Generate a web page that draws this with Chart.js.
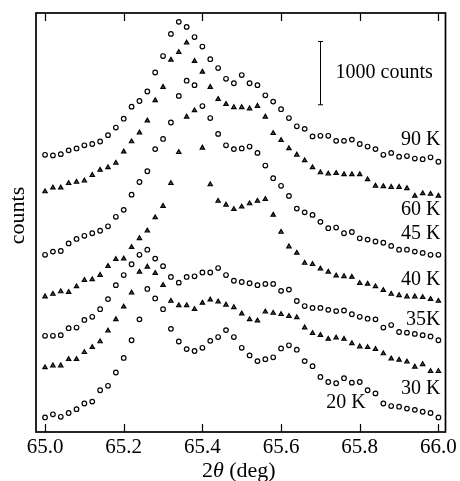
<!DOCTYPE html>
<html>
<head>
<meta charset="utf-8">
<script src="https://cdn.jsdelivr.net/npm/chart.js@4.4.0/dist/chart.umd.min.js"></script>
<style>
  html, body { margin: 0; padding: 0; background: #fff; }
</style>
</head>
<body>
<canvas id="myChart" width="460" height="481"></canvas>
<script>
// scattering angle 2theta (deg), one step = 0.02 deg
const angles = [
  65.00, 65.02, 65.04, 65.06, 65.08, 65.10, 65.12, 65.14, 65.16, 65.18,
  65.20, 65.22, 65.24, 65.26, 65.28, 65.30, 65.32, 65.34, 65.36, 65.38,
  65.40, 65.42, 65.44, 65.46, 65.48, 65.50, 65.52, 65.54, 65.56, 65.58,
  65.60, 65.62, 65.64, 65.66, 65.68, 65.70, 65.72, 65.74, 65.76, 65.78,
  65.80, 65.82, 65.84, 65.86, 65.88, 65.90, 65.92, 65.94, 65.96, 65.98,
  66.00
]

// counts, curves shifted up for clarity
const counts90K = [
  4380, 4370, 4390, 4450, 4480, 4530, 4550, 4590, 4690, 4810,
  4950, 5140, 5230, 5380, 5680, 5940, 6290, 6480, 6400, 6240,
  6090, 5890, 5750, 5580, 5510, 5640, 5510, 5480, 5320, 5220,
  5100, 4960, 4830, 4790, 4670, 4680, 4680, 4600, 4600, 4620,
  4550, 4510, 4470, 4380, 4410, 4350, 4360, 4320, 4310, 4340,
  4270
]
const counts60K = [
  3800, 3860, 3860, 3930, 3950, 3970, 4060, 4140, 4180, 4250,
  4430, 4590, 4730, 4920, 5240, 5450, 5880, 6000, 6150, 5860,
  5690, 5450, 5260, 5180, 5130, 5130, 5110, 5150, 4980, 4720,
  4610, 4480, 4380, 4290, 4180, 4100, 4080, 4090, 4070, 4070,
  4070, 3990, 3890, 3880, 3870, 3870, 3850, 3730, 3770, 3760,
  3730
]
const counts45K = [
  2800, 2850, 2860, 2980, 3050, 3100, 3140, 3180, 3250, 3400,
  3510, 3750, 3950, 4120, 4470, 4630, 4890, 5310, 5550, 5480,
  5150, 4960, 4710, 4530, 4470, 4480, 4510, 4410, 4210, 4010,
  3890, 3730, 3530, 3470, 3430, 3320, 3220, 3230, 3140, 3160,
  3060, 3040, 3010, 2990, 2940, 2880, 2880, 2850, 2830, 2800,
  2800
]
const counts40K = [
  2140, 2180, 2220, 2210, 2300, 2400, 2410, 2480, 2620, 2730,
  2740, 2920, 3060, 3180, 3390, 3570, 3930, 4420, 4980, 5080,
  4490, 3910, 3650, 3590, 3520, 3560, 3610, 3650, 3680, 3430,
  3160, 2930, 2830, 2670, 2650, 2580, 2530, 2470, 2460, 2450,
  2350, 2340, 2300, 2240, 2180, 2160, 2140, 2140, 2130, 2100,
  2070
]
const counts35K = [
  1520, 1520, 1530, 1640, 1650, 1770, 1820, 1940, 2100, 2320,
  2480, 2650, 2800, 2880, 2740, 2620, 2450, 2360, 2450, 2460,
  2520, 2520, 2590, 2480, 2390, 2370, 2350, 2320, 2340, 2340,
  2230, 2250, 2070, 1990, 1960, 1960, 1930, 1910, 1920, 1860,
  1820, 1790, 1780, 1650, 1690, 1580, 1570, 1550, 1530, 1510,
  1450
]
const counts30K = [
  1020, 1050, 1050, 1150, 1150, 1260, 1340, 1430, 1600, 1780,
  1980, 2200, 2530, 2610, 2510, 2320, 2070, 2000, 2000, 1940,
  2040, 2090, 2060, 2010, 1970, 1870, 1780, 1760, 1900, 1880,
  1860, 1830, 1810, 1650, 1560, 1530, 1470, 1490, 1470, 1400,
  1350, 1340, 1310, 1240, 1160, 1140, 1110, 1030, 1070, 960,
  960
]
const counts20K = [
  230, 280, 240, 300, 360, 450, 480, 660, 730, 940,
  1170, 1450, 1780, 2260, 2110, 1940, 1630, 1430, 1310, 1280,
  1330, 1440, 1500, 1610, 1500, 1330, 1210, 1120, 1150, 1180,
  1320, 1370, 1300, 1120, 1040, 870, 790, 770, 850, 780,
  790, 660, 610, 450, 410, 400, 370, 350, 320, 300,
  230
]

const curveNames = ['90 K', '60 K', '45 K', '40 K', '35K', '30 K', '20 K']
const curveValues = [counts90K, counts60K, counts45K, counts40K, counts35K, counts30K, counts20K]
const xTickValues = [65.0, 65.2, 65.4, 65.6, 65.8, 66.0]

// where the temperature labels sit, in axis units
const labelPlaces = [
  { x: 66.0, y: 4610, align: 'right' },
  { x: 66.0, y: 3510, align: 'right' },
  { x: 66.0, y: 3130, align: 'right' },
  { x: 66.0, y: 2400, align: 'right' },
  { x: 66.0, y: 1770, align: 'right' },
  { x: 66.0, y: 680, align: 'right' },
  { x: 65.76, y: 460, align: 'center' }
]
const scaleBar = { x: 65.70, from: 5170, size: 1000 }

const serif = '"Liberation Serif", "DejaVu Serif", serif'

const framePlugin = {
  id: 'frame',
  afterDatasetsDraw(chart) {
    const { ctx, chartArea: a, scales: { x, y } } = chart
    ctx.save()
    ctx.strokeStyle = '#000'
    ctx.lineWidth = 1.7
    ctx.strokeRect(a.left, a.top, a.right - a.left, a.bottom - a.top)

    ctx.lineWidth = 1.2
    xTickValues.forEach(v => {
      const px = Math.round(x.getPixelForValue(v)) + 0.5
      ctx.beginPath()
      ctx.moveTo(px, a.bottom)
      ctx.lineTo(px, a.bottom - 8)
      ctx.moveTo(px, a.top)
      ctx.lineTo(px, a.top + 8)
      ctx.stroke()
    })

    // 1000 counts bar
    const bx = Math.round(x.getPixelForValue(scaleBar.x)) + 0.5
    const b0 = y.getPixelForValue(scaleBar.from)
    const b1 = y.getPixelForValue(scaleBar.from + scaleBar.size)
    ctx.lineWidth = 1
    ctx.beginPath()
    ctx.moveTo(bx, b0)
    ctx.lineTo(bx, b1)
    ctx.moveTo(bx - 2.5, b0)
    ctx.lineTo(bx + 2.5, b0)
    ctx.moveTo(bx - 2.5, b1)
    ctx.lineTo(bx + 2.5, b1)
    ctx.stroke()

    ctx.fillStyle = '#000'
    ctx.font = '20px ' + serif
    ctx.textBaseline = 'middle'
    ctx.textAlign = 'left'
    ctx.fillText('1000 counts', bx + 15, (b0 + b1) / 2)

    labelPlaces.forEach((p, k) => {
      ctx.textAlign = p.align
      ctx.fillText(curveNames[k], x.getPixelForValue(p.x) + 2, y.getPixelForValue(p.y))
    })

    // axis titles: 2θ (deg) with italic theta, and rotated "counts"
    ctx.font = '22px ' + serif
    ctx.textBaseline = 'alphabetic'
    ctx.textAlign = 'left'
    const parts = [['2', ''], ['θ', 'italic '], [' (deg)', '']]
    let total = 0
    parts.forEach(p => { ctx.font = p[1] + '22px ' + serif; total += ctx.measureText(p[0]).width })
    let tx = (a.left + a.right) / 2 - total / 2 - 2
    parts.forEach(p => {
      ctx.font = p[1] + '22px ' + serif
      ctx.fillText(p[0], tx, a.bottom + 45)
      tx += ctx.measureText(p[0]).width
    })

    ctx.translate(18, (a.top + a.bottom) / 2 - 7)
    ctx.rotate(-Math.PI / 2)
    ctx.font = '22px ' + serif
    ctx.textAlign = 'center'
    ctx.textBaseline = 'middle'
    ctx.fillText('counts', 0, 0)
    ctx.restore()
  }
}

const datasets = curveNames.map((name, k) => {
  const isCircle = k % 2 === 0
  return {
    label: name,
    data: angles.map((a, i) => ({ x: a, y: curveValues[k][i] })),
    showLine: false,
    pointStyle: isCircle ? 'circle' : 'triangle',
    pointRadius: isCircle ? 2.3 : 2.5,
    borderWidth: 1.2,
    borderColor: '#000',
    backgroundColor: isCircle ? '#fff' : '#555'
  }
})

const ctx = document.getElementById('myChart')
const myChart = new Chart(ctx, {
  type: 'scatter',
  data: { datasets: datasets },
  options: {
    responsive: false,
    animation: false,
    devicePixelRatio: 1,
    layout: { padding: { top: 13, right: 12, left: 0, bottom: 0 } },
    plugins: { legend: { display: false }, tooltip: { enabled: false } },
    scales: {
      x: {
        type: 'linear',
        min: 64.977,
        max: 66.018,
        afterBuildTicks: s => { s.ticks = xTickValues.map(v => ({ value: v })) },
        afterFit: s => { s.height = 49 },
        grid: { display: false, drawTicks: false, tickLength: 0 },
        border: { display: false },
        ticks: {
          color: '#000',
          font: { family: serif, size: 21 },
          padding: 3,
          maxRotation: 0,
          autoSkip: false,
          callback: v => v.toFixed(1)
        }
      },
      y: {
        min: 0,
        max: 6620,
        afterFit: s => { s.width = 36 },
        grid: { display: false, drawTicks: false, tickLength: 0 },
        border: { display: false },
        ticks: { display: false }
      }
    }
  },
  plugins: [framePlugin]
})
</script>
</body>
</html>
